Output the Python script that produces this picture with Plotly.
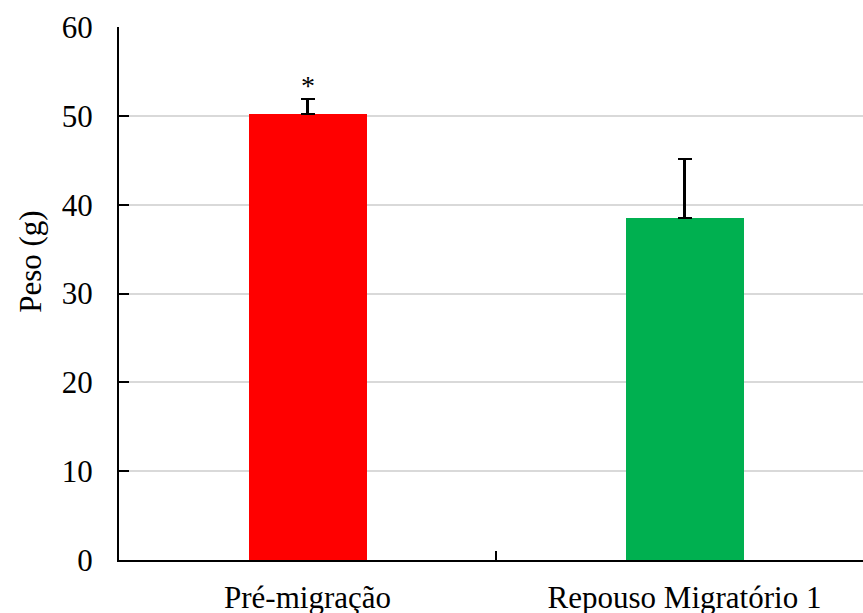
import plotly.graph_objects as go

categories = ["Pré-migração", "Repouso Migratório 1"]
peso = [50.2, 38.5]
erro = [1.7, 6.6]
bar_colors = ["#FF0000", "#00B050"]
signif = ["*", ""]
y_ticks = [0, 10, 20, 30, 40, 50, 60]

FONT = "Liberation Serif, Times New Roman, serif"

fig = go.Figure()
fig.add_trace(go.Bar(
    x=categories, y=peso,
    marker=dict(color=bar_colors, line=dict(width=0)),
    width=0.313,
    error_y=dict(type="data", symmetric=False, array=erro,
                 arrayminus=[0] * len(erro), color="black",
                 thickness=2.2, width=7),
))

for c, v, e, s in zip(categories, peso, erro, signif):
    if s:
        fig.add_annotation(x=c, y=v + e, text=s, showarrow=False,
                           yanchor="bottom", yshift=-4,
                           font=dict(family=FONT, size=28, color="black"))

fig.add_annotation(text="Peso (g)", textangle=-90, showarrow=False,
                   xref="paper", yref="paper", x=-0.12, y=0.559,
                   xanchor="center", yanchor="middle",
                   font=dict(family=FONT, size=31, color="black"))

fig.update_layout(
    width=863, height=613,
    margin=dict(l=119, r=0, t=27, b=53, autoexpand=False),
    plot_bgcolor="white", paper_bgcolor="white",
    showlegend=False,
    font=dict(family=FONT, size=31, color="black"),
    bargap=0,
)
fig.update_xaxes(
    type="category", range=[-0.5, -0.5 + 744 / 377], automargin=False,
    showline=True, linecolor="black", linewidth=2,
    ticks="inside", tickson="boundaries", ticklen=9, tickwidth=1.5,
    tickcolor="black", showgrid=False, zeroline=False,
    ticklabelstandoff=9,
    tickfont=dict(family=FONT, size=31, color="black"),
)
fig.update_yaxes(
    range=[0, 60], tickvals=y_ticks, automargin=False,
    showline=True, linecolor="black", linewidth=2,
    ticks="inside", ticklen=10, tickwidth=2, tickcolor="black",
    showgrid=True, gridcolor="#d9d9d9", gridwidth=2, zeroline=False,
    ticklabelstandoff=18,
    tickfont=dict(family=FONT, size=31, color="black"),
)

fig.write_html("out.html",
               config={"displayModeBar": False},
               post_script="document.body.style.margin='0';"
                           "document.body.style.overflow='hidden';")
